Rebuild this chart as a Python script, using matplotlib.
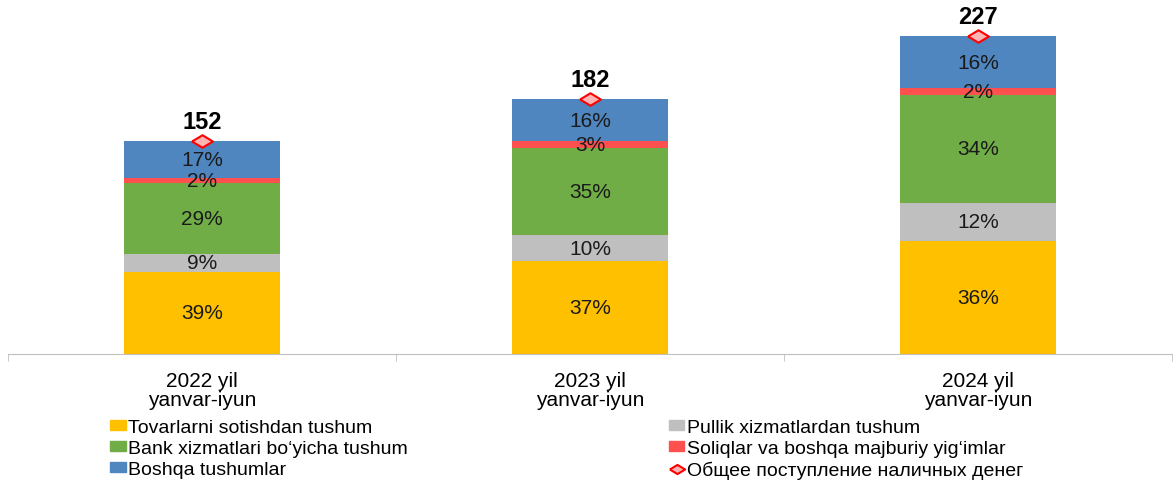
import numpy as np
import matplotlib
matplotlib.use('Agg')
import matplotlib.pyplot as plt
from matplotlib.patches import Patch
from matplotlib.lines import Line2D

plt.rcParams['font.family'] = ['Liberation Sans', 'DejaVu Sans']

# data
categories = ['2022 yil\nyanvar-iyun', '2023 yil\nyanvar-iyun', '2024 yil\nyanvar-iyun']
totals = [152, 182, 227]
series_names = ['Tovarlarni sotishdan tushum', 'Pullik xizmatlardan tushum',
                'Bank xizmatlari boʻyicha tushum', 'Soliqlar va boshqa majburiy yigʻimlar',
                'Boshqa tushumlar']
# segment sizes
tovar = [58.7, 66.4, 81.0]
pullik = [12.6, 18.3, 26.9]
bank = [50.7, 62.6, 77.4]
soliq = [3.6, 4.8, 4.8]
boshqa = [26.4, 29.9, 36.9]
# labels as printed on the chart
tovar_lbl = ['39%', '37%', '36%']
pullik_lbl = ['9%', '10%', '12%']
bank_lbl = ['29%', '35%', '34%']
soliq_lbl = ['2%', '3%', '2%']
boshqa_lbl = ['17%', '16%', '16%']
total_name = 'Общее поступление наличных денег'

colors = ['#FFC000', '#BFBFBF', '#70AD47', '#FF5050', '#4F86BF']
diamond = [(-1, 0), (0, 0.6), (1, 0), (0, -0.6), (-1, 0)]

fig = plt.figure(figsize=(11.73, 4.81), dpi=100)
ax = fig.add_axes([8 / 1173, 126 / 481, 1164 / 1173, 350 / 481])

x = np.arange(len(categories))
w = 0.4
bottom = np.zeros(len(categories))
segs = [tovar, pullik, bank, soliq, boshqa]
lbls = [tovar_lbl, pullik_lbl, bank_lbl, soliq_lbl, boshqa_lbl]
for vals, lab, c in zip(segs, lbls, colors):
    vals = np.array(vals)
    ax.bar(x, vals, w, bottom=bottom, color=c, edgecolor='none')
    for i in range(len(x)):
        ax.text(x[i], bottom[i] + vals[i] / 2, lab[i], ha='center', va='center',
                fontsize=15, color='#1a1a1a')
    bottom = bottom + vals

ax.plot(x, totals, linestyle='none', marker=diamond, markersize=15,
        markerfacecolor='#FFB3B3', markeredgecolor='#FF0000', markeredgewidth=1.5)
for i in range(len(x)):
    ax.text(x[i], totals[i] + 6, str(totals[i]), ha='center', va='bottom',
            fontsize=17, fontweight='bold', color='black')

ax.set_xlim(-0.5, 2.5)
ax.set_ylim(0, 250)
ax.set_yticks([])
for s in ['top', 'right', 'left']:
    ax.spines[s].set_visible(False)
ax.spines['bottom'].set_color('#BFBFBF')
ax.set_xticks([-0.5, 0.5, 1.5, 2.5], minor=True)
ax.set_xticks(x)
ax.set_xticklabels(categories, fontsize=15, linespacing=1.0)
ax.tick_params(axis='x', which='major', length=0, pad=12)
ax.tick_params(axis='x', which='minor', length=5, color='#BFBFBF')

handles = [Patch(color=colors[0]), Patch(color=colors[2]), Patch(color=colors[4]),
           Patch(color=colors[1]), Patch(color=colors[3]),
           Line2D([], [], linestyle='none', marker=diamond, markersize=11,
                  markerfacecolor='#FFB3B3', markeredgecolor='#FF0000', markeredgewidth=1.5)]
names = [series_names[0], series_names[2], series_names[4],
         series_names[1], series_names[3], total_name]
fig.legend(handles, names, ncol=2, loc='upper left', bbox_to_anchor=(110 / 1173, 1 - 420 / 481),
           frameon=False, fontsize=14, handlelength=0.8, handleheight=0.42,
           handletextpad=0.15, labelspacing=0.2, columnspacing=13.4, borderaxespad=0,
           borderpad=0)

fig.savefig('out.png', dpi=100)
